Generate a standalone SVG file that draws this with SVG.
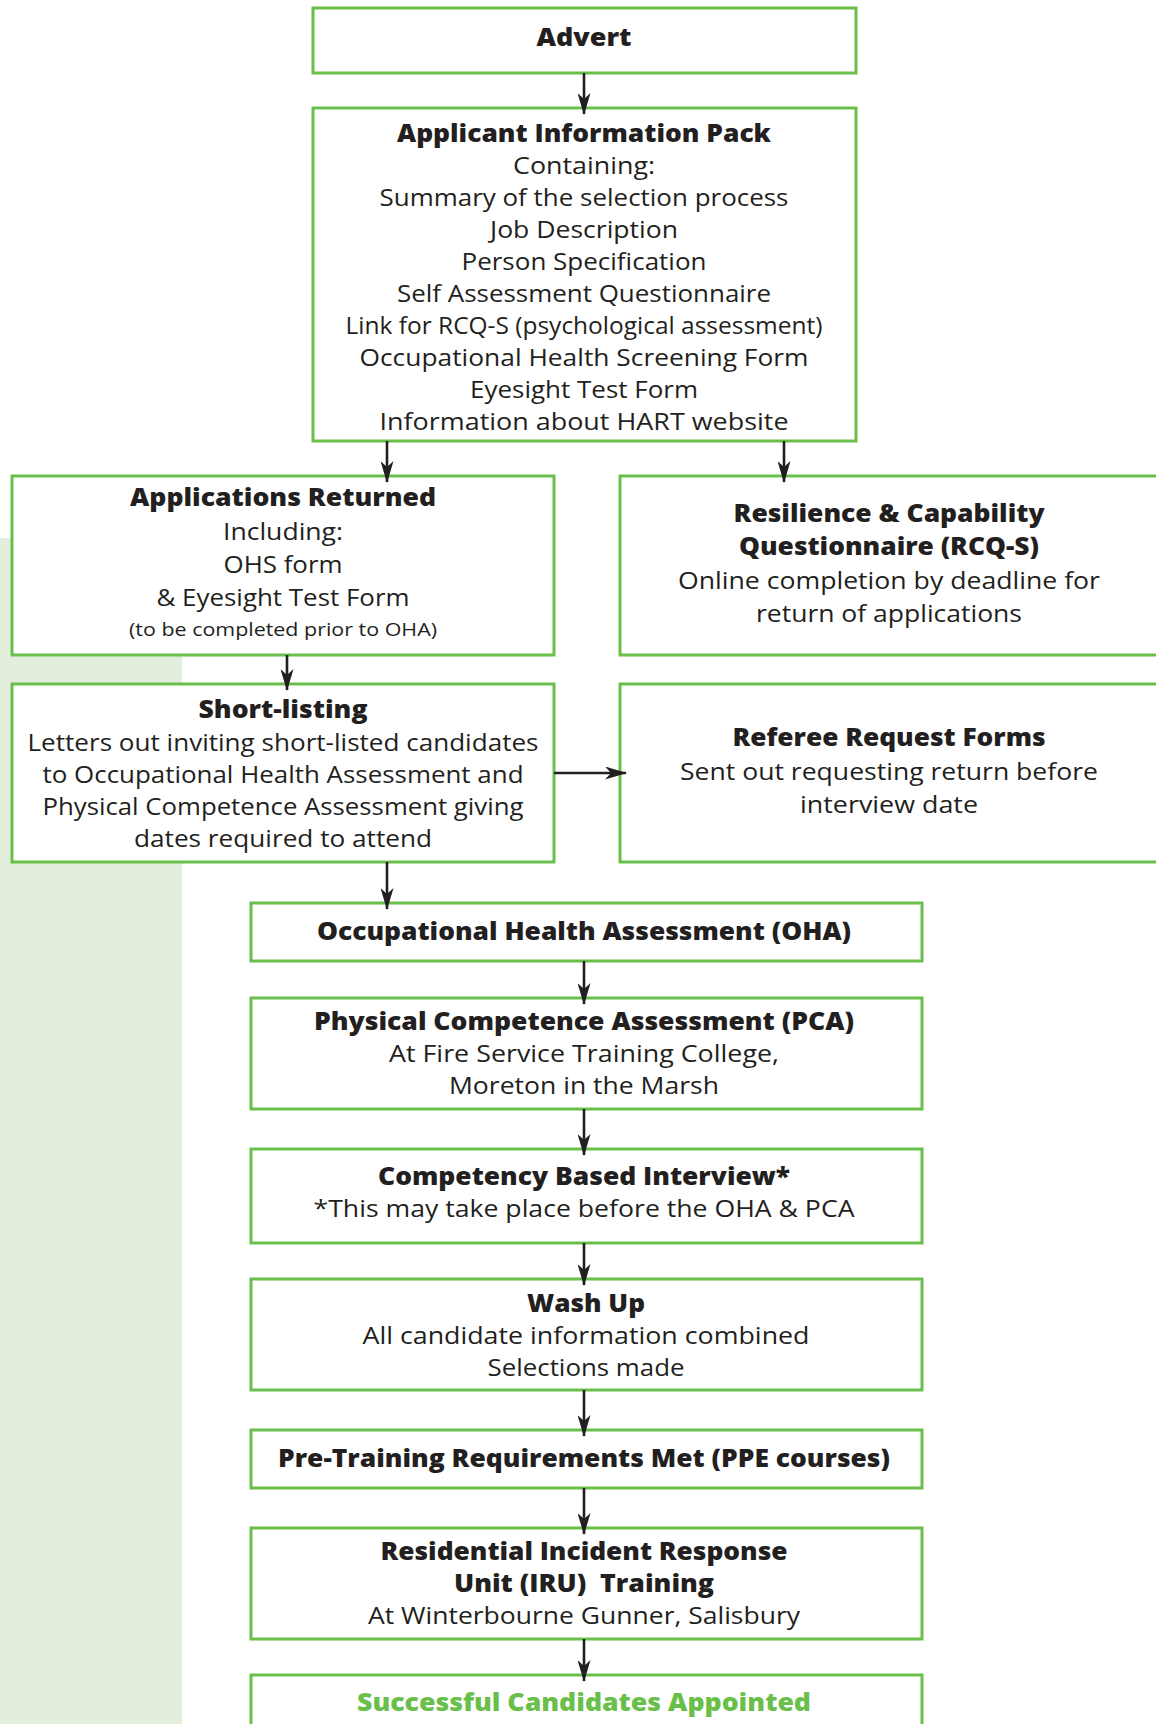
<svg xmlns="http://www.w3.org/2000/svg" width="1156" height="1724" viewBox="0 0 1156 1724">
<style>
.box{fill:#fff;stroke:#6abf4b;stroke-width:3}
.t{font-family:"Open Sans","Noto Sans","Liberation Sans",sans-serif;font-size:24px;fill:#231f20;text-anchor:middle}
.b{font-weight:800}
.s{font-size:18px}
.g{fill:#6abf4b}
.pre{white-space:pre}
.c line{stroke:#231f20;stroke-width:2.6;marker-end:url(#ah)}
</style>
<defs>
<marker id="ah" markerUnits="userSpaceOnUse" viewBox="0 0 22 13" refX="21" refY="6.5" markerWidth="22" markerHeight="13" orient="auto">
<path d="M0,0 L22,6.5 L0,13 L6,6.5 z" fill="#231f20"/>
</marker>
</defs>
<rect x="0" y="0" width="1156" height="1724" fill="#fff"/>
<rect x="0" y="538" width="182" height="1186" fill="#e3efdc"/>

<g id="advert">
<rect class="box" x="313" y="8" width="543" height="65"/>
<text class="t b" x="584" y="46" textLength="95" lengthAdjust="spacingAndGlyphs">Advert</text>
</g>

<g id="aip">
<rect class="box" x="313" y="108" width="543" height="333"/>
<text class="t b" x="584" y="142" textLength="374" lengthAdjust="spacingAndGlyphs">Applicant Information Pack</text>
<text class="t" x="584" y="174" textLength="142" lengthAdjust="spacingAndGlyphs">Containing:</text>
<text class="t" x="584" y="206" textLength="409" lengthAdjust="spacingAndGlyphs">Summary of the selection process</text>
<text class="t" x="584" y="238" textLength="188" lengthAdjust="spacingAndGlyphs">Job Description</text>
<text class="t" x="584" y="270" textLength="245" lengthAdjust="spacingAndGlyphs">Person Specification</text>
<text class="t" x="584" y="302" textLength="374" lengthAdjust="spacingAndGlyphs">Self Assessment Questionnaire</text>
<text class="t" x="584" y="334" textLength="477" lengthAdjust="spacingAndGlyphs">Link for RCQ-S (psychological assessment)</text>
<text class="t" x="584" y="366" textLength="449" lengthAdjust="spacingAndGlyphs">Occupational Health Screening Form</text>
<text class="t" x="584" y="398" textLength="228" lengthAdjust="spacingAndGlyphs">Eyesight Test Form</text>
<text class="t" x="584" y="430" textLength="409" lengthAdjust="spacingAndGlyphs">Information about HART website</text>
</g>

<g id="applications-returned">
<rect class="box" x="12" y="476" width="542" height="179"/>
<text class="t b" x="283" y="506" textLength="306" lengthAdjust="spacingAndGlyphs">Applications Returned</text>
<text class="t" x="283" y="540" textLength="120" lengthAdjust="spacingAndGlyphs">Including:</text>
<text class="t" x="283" y="573" textLength="119" lengthAdjust="spacingAndGlyphs">OHS form</text>
<text class="t" x="283" y="606" textLength="253" lengthAdjust="spacingAndGlyphs">&amp; Eyesight Test Form</text>
<text class="t s" x="283" y="636" textLength="308" lengthAdjust="spacingAndGlyphs">(to be completed prior to OHA)</text>
</g>

<g id="rcq">
<rect class="box" x="620" y="476" width="540" height="179"/>
<text class="t b" x="889" y="522" textLength="311" lengthAdjust="spacingAndGlyphs">Resilience &amp; Capability</text>
<text class="t b" x="889" y="555" textLength="300" lengthAdjust="spacingAndGlyphs">Questionnaire (RCQ-S)</text>
<text class="t" x="889" y="589" textLength="422" lengthAdjust="spacingAndGlyphs">Online completion by deadline for</text>
<text class="t" x="889" y="622" textLength="266" lengthAdjust="spacingAndGlyphs">return of applications</text>
</g>

<g id="short-listing">
<rect class="box" x="12" y="684" width="542" height="178"/>
<text class="t b" x="283" y="718" textLength="169" lengthAdjust="spacingAndGlyphs">Short-listing</text>
<text class="t" x="283" y="751" textLength="511" lengthAdjust="spacingAndGlyphs">Letters out inviting short-listed candidates</text>
<text class="t" x="283" y="783" textLength="481" lengthAdjust="spacingAndGlyphs">to Occupational Health Assessment and</text>
<text class="t" x="283" y="815" textLength="481" lengthAdjust="spacingAndGlyphs">Physical Competence Assessment giving</text>
<text class="t" x="283" y="847" textLength="298" lengthAdjust="spacingAndGlyphs">dates required to attend</text>
</g>

<g id="referee">
<rect class="box" x="620" y="684" width="540" height="178"/>
<text class="t b" x="889" y="746" textLength="313" lengthAdjust="spacingAndGlyphs">Referee Request Forms</text>
<text class="t" x="889" y="780" textLength="418" lengthAdjust="spacingAndGlyphs">Sent out requesting return before</text>
<text class="t" x="889" y="813" textLength="178" lengthAdjust="spacingAndGlyphs">interview date</text>
</g>

<g id="oha">
<rect class="box" x="251" y="903" width="671" height="58"/>
<text class="t b" x="584" y="940" textLength="534" lengthAdjust="spacingAndGlyphs">Occupational Health Assessment (OHA)</text>
</g>

<g id="pca">
<rect class="box" x="251" y="998" width="671" height="111"/>
<text class="t b" x="584" y="1030" textLength="540" lengthAdjust="spacingAndGlyphs">Physical Competence Assessment (PCA)</text>
<text class="t" x="584" y="1062" textLength="390" lengthAdjust="spacingAndGlyphs">At Fire Service Training College,</text>
<text class="t" x="584" y="1094" textLength="270" lengthAdjust="spacingAndGlyphs">Moreton in the Marsh</text>
</g>

<g id="cbi">
<rect class="box" x="251" y="1149" width="671" height="94"/>
<text class="t b" x="584" y="1185" textLength="412" lengthAdjust="spacingAndGlyphs">Competency Based Interview*</text>
<text class="t" x="584" y="1217" textLength="541" lengthAdjust="spacingAndGlyphs">*This may take place before the OHA &amp; PCA</text>
</g>

<g id="wash-up">
<rect class="box" x="251" y="1279" width="671" height="111"/>
<text class="t b" x="586" y="1312" textLength="118" lengthAdjust="spacingAndGlyphs">Wash Up</text>
<text class="t" x="586" y="1344" textLength="447" lengthAdjust="spacingAndGlyphs">All candidate information combined</text>
<text class="t" x="586" y="1376" textLength="197" lengthAdjust="spacingAndGlyphs">Selections made</text>
</g>

<g id="pre-training">
<rect class="box" x="251" y="1430" width="671" height="58"/>
<text class="t b" x="584" y="1467" textLength="612" lengthAdjust="spacingAndGlyphs">Pre-Training Requirements Met (PPE courses)</text>
</g>

<g id="iru">
<rect class="box" x="251" y="1528" width="671" height="111"/>
<text class="t b" x="584" y="1560" textLength="407" lengthAdjust="spacingAndGlyphs">Residential Incident Response</text>
<text class="t b pre" x="584" y="1592" textLength="260" lengthAdjust="spacingAndGlyphs">Unit (IRU)  Training</text>
<text class="t" x="584" y="1624" textLength="432" lengthAdjust="spacingAndGlyphs">At Winterbourne Gunner, Salisbury</text>
</g>

<g id="successful">
<rect class="box" x="251" y="1675" width="671" height="70"/>
<text class="t b g" x="584" y="1711" textLength="454" lengthAdjust="spacingAndGlyphs">Successful Candidates Appointed</text>
</g>

<g id="connectors" class="c">
<line x1="584" y1="73" x2="584" y2="114"/>
<line x1="387" y1="441" x2="387" y2="482"/>
<line x1="784" y1="441" x2="784" y2="482"/>
<line x1="287" y1="655" x2="287" y2="690"/>
<line x1="554" y1="773" x2="626" y2="773"/>
<line x1="387" y1="862" x2="387" y2="909"/>
<line x1="584" y1="961" x2="584" y2="1004"/>
<line x1="584" y1="1109" x2="584" y2="1155"/>
<line x1="584" y1="1243" x2="584" y2="1285"/>
<line x1="584" y1="1390" x2="584" y2="1436"/>
<line x1="584" y1="1488" x2="584" y2="1534"/>
<line x1="584" y1="1639" x2="584" y2="1681"/>
</g>
</svg>
